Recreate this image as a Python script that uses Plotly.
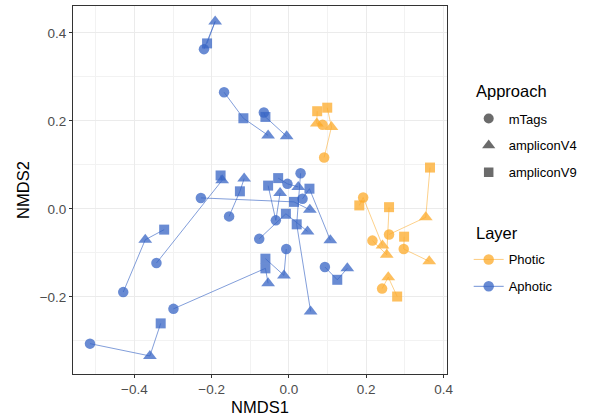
import plotly.graph_objects as go

# ---- data (path order within each sample) ----
sample = ["A1"]*3 + ["A2"]*3 + ["A3"]*3 + ["A4"]*3 + ["A5"]*3 + ["A6"]*3 + ["A7"]*3 + ["A8"]*3 + \
         ["A9"]*3 + ["A10"]*3 + ["A11"]*3 + ["A12"]*3 + ["A13"]*3 + ["A14"]*3 + ["A15"]*3 + ["A16"]*3 + \
         ["P1"]*3 + ["P2"]*3 + ["P3"]*3 + ["P4"]*3 + ["P5"]*3 + ["P6"]*3 + ["P7"]*3
layer = ["Aphotic"]*48 + ["Photic"]*21
approach = [
    "mTags", "ampliconV4", "ampliconV9",   # A1
    "mTags", "ampliconV9", "ampliconV4",   # A2
    "mTags", "ampliconV9", "ampliconV4",   # A3
    "mTags", "ampliconV4", "ampliconV9",   # A4
    "mTags", "ampliconV9", "ampliconV4",   # A5
    "ampliconV9", "mTags", "ampliconV4",   # A6
    "mTags", "ampliconV9", "ampliconV4",   # A7
    "mTags", "ampliconV9", "ampliconV4",   # A8
    "mTags", "ampliconV9", "ampliconV4",   # A9
    "ampliconV9", "mTags", "ampliconV4",   # A10
    "mTags", "ampliconV9", "ampliconV4",   # A11
    "mTags", "ampliconV9", "ampliconV4",   # A12
    "mTags", "ampliconV4", "ampliconV9",   # A13
    "mTags", "ampliconV9", "ampliconV4",   # A14
    "mTags", "ampliconV4", "ampliconV9",   # A15
    "mTags", "ampliconV4", "ampliconV9",   # A16
    "mTags", "ampliconV4", "ampliconV9",   # P1
    "mTags", "ampliconV4", "ampliconV9",   # P2
    "mTags", "ampliconV4", "ampliconV9",   # P3
    "ampliconV9", "mTags", "ampliconV4",   # P4
    "mTags", "ampliconV4", "ampliconV9",   # P5
    "ampliconV9", "mTags", "ampliconV4",   # P6
    "mTags", "ampliconV4", "ampliconV9",   # P7
]
nmds1 = [
    -0.220, -0.191, -0.212,
    -0.168, -0.118, -0.054,
    -0.065, -0.061, -0.006,
    -0.343, -0.173, -0.177,
    -0.155, -0.127, -0.116,
    -0.028, -0.004, 0.024,
    0.030, 0.020, 0.056,
    0.035, 0.053, 0.107,
    -0.228, 0.013, 0.054,
    -0.054, -0.034, -0.023,
    -0.077, -0.008, 0.048,
    0.093, 0.125, 0.151,
    -0.007, -0.013, -0.061,
    -0.299, -0.061, -0.054,
    -0.429, -0.372, -0.323,
    -0.515, -0.360, -0.332,
    0.091, 0.110, 0.099,
    0.087, 0.072, 0.073,
    0.259, 0.354, 0.365,
    0.182, 0.192, 0.242,
    0.216, 0.253, 0.259,
    0.298, 0.297, 0.363,
    0.241, 0.257, 0.280,
]
nmds2 = [
    0.363, 0.426, 0.376,
    0.265, 0.206, 0.167,
    0.219, 0.209, 0.165,
    -0.123, 0.065, 0.076,
    -0.017, 0.040, 0.069,
    0.070, 0.057, 0.050,
    0.081, -0.035, -0.233,
    0.023, 0.046, -0.071,
    0.025, 0.016, -0.002,
    0.053, -0.026, 0.036,
    -0.068, -0.011, -0.051,
    -0.132, -0.161, -0.135,
    -0.091, -0.151, -0.113,
    -0.227, -0.135, -0.169,
    -0.189, -0.070, -0.047,
    -0.306, -0.334, -0.260,
    0.117, 0.186, 0.230,
    0.191, 0.194, 0.222,
    -0.058, -0.019, 0.094,
    0.008, 0.026, -0.083,
    -0.072, -0.104, 0.004,
    -0.063, -0.091, -0.119,
    -0.181, -0.155, -0.199,
]
approaches = ["mTags", "ampliconV4", "ampliconV9"]
layers = ["Photic", "Aphotic"]
legend_titles = ["Approach", "Layer"]

# ---- styles ----
layer_color = {"Photic": "rgb(252,170,40)", "Aphotic": "rgb(55,100,196)"}
layer_line = {"Photic": "rgba(252,170,40,0.6)", "Aphotic": "rgba(55,100,196,0.7)"}
symbol = {"mTags": "circle", "ampliconV4": "triangle-up", "ampliconV9": "square"}
msize = {"mTags": 10.5, "ampliconV4": 12, "ampliconV9": 10}
FONT = "Liberation Sans, Arial, Helvetica, sans-serif"

fig = go.Figure()

# connecting paths per sample
order = []
for s in sample:
    if s not in order:
        order.append(s)
for lay in ["Aphotic", "Photic"]:
    xs, ys = [], []
    for s in order:
        idx = [i for i in range(len(sample)) if sample[i] == s and layer[i] == lay]
        if not idx:
            continue
        xs += [nmds1[i] for i in idx] + [None]
        ys += [nmds2[i] for i in idx] + [None]
    fig.add_trace(go.Scatter(x=xs, y=ys, mode="lines", showlegend=False, hoverinfo="skip",
                             line=dict(color=layer_line[lay], width=0.9)))

# points
for lay in ["Aphotic", "Photic"]:
    for ap in approaches:
        idx = [i for i in range(len(sample)) if layer[i] == lay and approach[i] == ap]
        fig.add_trace(go.Scatter(
            x=[nmds1[i] for i in idx], y=[nmds2[i] for i in idx], mode="markers",
            showlegend=False,
            marker=dict(symbol=symbol[ap], size=msize[ap], color=layer_color[lay],
                        opacity=0.75, line=dict(width=0))))

# legend entries: Approach
for ap in approaches:
    fig.add_trace(go.Scatter(x=[None], y=[None], mode="markers", name=ap, legend="legend",
                             legendgroup=ap,
                             marker=dict(symbol=symbol[ap], size=msize[ap] - 0.5,
                                         color="rgba(70,70,70,0.8)", line=dict(width=0))))
# legend entries: Layer
for lay in layers:
    fig.add_trace(go.Scatter(x=[None], y=[None], mode="lines+markers", name=lay, legend="legend2",
                             legendgroup=lay,
                             line=dict(color=layer_line[lay], width=1),
                             marker=dict(symbol="circle", size=10.5, color=layer_color[lay],
                                         opacity=0.75, line=dict(width=0))))

axis_common = dict(
    showline=True, linecolor="#333333", linewidth=1, mirror=True,
    ticks="outside", ticklen=3, tickcolor="#333333", tickwidth=1,
    showgrid=True, gridcolor="#EBEBEB", gridwidth=1.1,
    zeroline=False,
    tickfont=dict(family=FONT, size=13.5, color="#4D4D4D"),
    tickformat=".1f",
)

legend_common = dict(
    xanchor="left", yanchor="top",
    font=dict(family=FONT, size=13, color="black"),
    traceorder="grouped", tracegroupgap=7, itemwidth=30,
    bgcolor="rgba(0,0,0,0)",
)

fig.update_layout(
    width=589, height=420,
    margin=dict(l=73, r=142, t=6, b=46),
    paper_bgcolor="white", plot_bgcolor="white",
    font=dict(family=FONT),
    xaxis=dict(range=[-0.559, 0.409], tickvals=[-0.4, -0.2, 0.0, 0.2, 0.4],
               minor=dict(tickvals=[-0.5, -0.3, -0.1, 0.1, 0.3], showgrid=True,
                          gridcolor="#F2F2F2", gridwidth=0.6, ticks=""),
               title=dict(text="NMDS1", font=dict(family=FONT, size=16.5, color="black"), standoff=5),
               **axis_common),
    yaxis=dict(range=[-0.375, 0.461], tickvals=[-0.2, 0.0, 0.2, 0.4],
               minor=dict(tickvals=[-0.3, -0.1, 0.1, 0.3], showgrid=True,
                          gridcolor="#F2F2F2", gridwidth=0.6, ticks=""),
               title=dict(text="NMDS2", font=dict(family=FONT, size=16.5, color="black"), standoff=5),
               **axis_common),
    legend=dict(x=1.058, y=0.735, **legend_common),
    legend2=dict(x=1.058, y=0.352, **legend_common),
    annotations=[
        dict(text=legend_titles[0], xref="paper", yref="paper", x=1.072, y=0.768,
             xanchor="left", yanchor="middle", showarrow=False,
             font=dict(family=FONT, size=16.5, color="black")),
        dict(text=legend_titles[1], xref="paper", yref="paper", x=1.072, y=0.382,
             xanchor="left", yanchor="middle", showarrow=False,
             font=dict(family=FONT, size=16.5, color="black")),
    ],
)

fig.write_html("out.html")
